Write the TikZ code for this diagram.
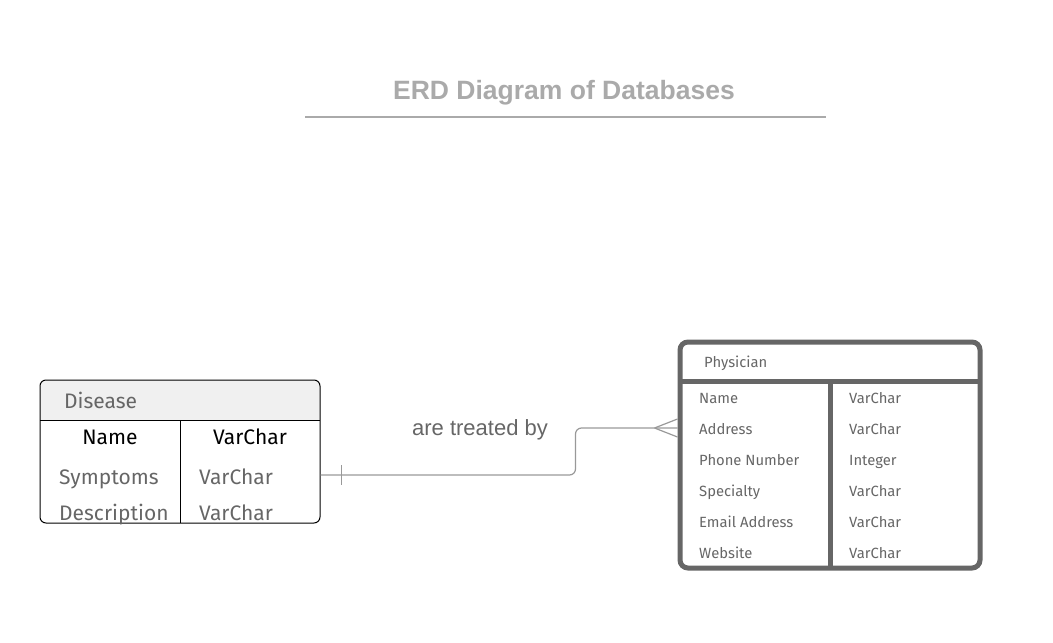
\documentclass[tikz,border=0pt]{standalone}
\usepackage{fontspec}
\setmainfont{Fira Sans}
\newfontfamily\arialfont{Liberation Sans}
\usetikzlibrary{positioning,calc}
\definecolor{dg}{HTML}{666666}
\definecolor{lg}{HTML}{999999}
\definecolor{tg}{HTML}{AAAAAA}
\definecolor{hg}{HTML}{F0F0F0}
\tikzset{
    entity/.style = {rectangle,
                    draw=black,
                    line width=1pt,
                    rounded corners=6pt,
                    inner sep=0pt},
    bigentity/.style = {rectangle,
                    draw=dg,
                    line width=5pt,
                    rounded corners=8pt,
                    inner sep=0pt},
    field/.style =  {anchor=base west,
                    inner sep=0pt,
                    text=dg,
                    font=\fontsize{21}{24}\selectfont},
    pfield/.style = {anchor=base west,
                    inner sep=0pt,
                    text=dg,
                    font=\fontsize{14.8}{18}\selectfont},
    rel/.style =    {draw=lg,
                    line width=1.2pt},
    -,
    x=1pt,
    y=-1pt}

\begin{document}
\begin{tikzpicture}
            \useasboundingbox (0,0) rectangle (1053,643);

            % title
            \node[anchor=base, inner sep=0pt, font=\arialfont\bfseries\fontsize{26.5}{30}\selectfont, text=tg] (title) at (564,99.5) {ERD Diagram of Databases};
            \coordinate (ul) at (305,117);
            \coordinate (ur) at (826,117);
            \draw[tg, line width=2pt] (ul) -- (ur);

            % Disease
            \begin{scope}
                \clip[rounded corners=6pt] (40,380) rectangle (320,523);
                \fill[hg] (40,380) rectangle (320,420);
            \end{scope}
            \node[entity, minimum width=280pt, minimum height=143pt] (dis) at (180,451.5) {};
            \draw[line width=1pt] (40,420) -- (320,420);
            \draw[line width=1pt] (180,420) -- (180,523);
            \node[field]                (dhead) at (64,408)     {Disease};
            \node[field, anchor=base, text=black] (dname) at (110,444) {Name};
            \node[field, anchor=base, text=black] (dtype) at (250,444) {VarChar};
            \node[field]                (dsym)  at (59,484)     {Symptoms};
            \node[field]                (dsymt) at (199,484)    {VarChar};
            \node[field]                (ddesc) at (59,520)     {Description};
            \node[field]                (ddesct) at (199,520)   {VarChar};

            % Physician
            \node[bigentity, minimum width=300pt, minimum height=226pt] (phy) at (830,455) {};
            \draw[dg, line width=5pt] (680,381) -- (980,381);
            \draw[dg, line width=5pt] (830,381) -- (830,568);
            \node[pfield]               (phead) at (704,367.5)  {Physician};
            \foreach \n/\t/\y [count=\i] in {Name/VarChar/403,
                                            Address/VarChar/434,
                                            Phone Number/Integer/465,
                                            Specialty/VarChar/496,
                                            Email Address/VarChar/527,
                                            Website/VarChar/558}
            {
                \node[pfield] (pn\i) at (699,\y) {\n};
                \node[pfield] (pt\i) at (849,\y) {\t};
            }

            % relationship
            \node[anchor=base, inner sep=0pt, font=\arialfont\fontsize{22}{26}\selectfont, text=dg] (lbl) at (480,435) {are treated by};
            \coordinate (src) at ($(dis.east)+(0,23.5)$);
            \coordinate (dst) at ($(phy.west)+(0,-27)$);
            \path[rel, rounded corners=6pt] (src) -- ++(255,0) |- (dst);
            \draw[rel] ($(src)+(21,-10)$) -- ++(0,20);
            \draw[rel] ($(dst)+(-23,0)$) -- ++(23,-9)
                       ($(dst)+(-23,0)$) -- ++(23,9);
\end{tikzpicture}
\end{document}
